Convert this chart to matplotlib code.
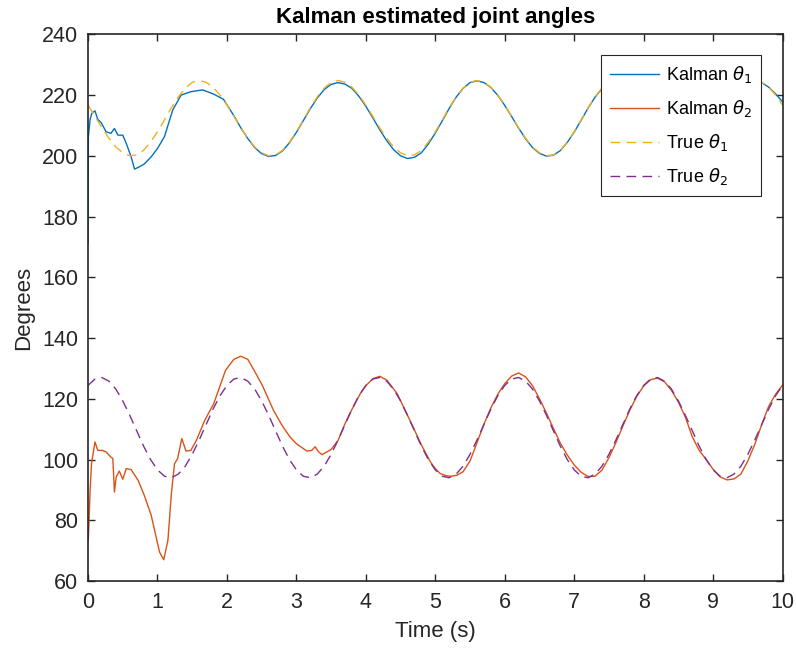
import numpy as np
import matplotlib
matplotlib.use("Agg")
from matplotlib import pyplot as plt

plt.rcParams["font.family"] = ["Liberation Sans", "DejaVu Sans"]
plt.rcParams["mathtext.fontset"] = "dejavusans"

# time grid for the reference trajectories (0.1 s)
time = np.round(np.arange(101) * 0.1, 1)

true_theta1 = [
    216.7, 213.0, 209.2, 205.8, 202.9, 201.0, 200.0, 200.3, 201.8, 204.5,
    207.9, 211.8, 215.8, 219.4, 222.3, 224.2, 224.8, 224.2, 222.6, 220.0,
    216.7, 213.0, 209.2, 205.8, 202.9, 201.0, 200.0, 200.3, 201.8, 204.5,
    207.9, 211.8, 215.8, 219.4, 222.3, 224.2, 224.8, 224.2, 222.6, 220.0,
    216.7, 213.0, 209.2, 205.8, 202.9, 201.0, 200.0, 200.3, 201.8, 204.5,
    207.9, 211.8, 215.8, 219.4, 222.3, 224.2, 224.8, 224.2, 222.6, 220.0,
    216.7, 213.0, 209.2, 205.8, 202.9, 201.0, 200.0, 200.3, 201.8, 204.5,
    207.9, 211.8, 215.8, 219.4, 222.3, 224.2, 224.8, 224.2, 222.6, 220.0,
    216.7, 213.0, 209.2, 205.8, 202.9, 201.0, 200.0, 200.3, 201.8, 204.5,
    207.9, 211.8, 215.8, 219.4, 222.3, 224.2, 224.8, 224.2, 222.6, 220.0,
    216.7,
]

true_theta2 = [
    124.4, 126.5, 127.0, 125.8, 123.2, 119.3, 114.6, 109.5, 104.4, 100.0,
    96.6, 94.5, 94.0, 95.2, 97.8, 101.7, 106.4, 111.5, 116.6, 121.0,
    124.4, 126.5, 127.0, 125.8, 123.2, 119.3, 114.6, 109.5, 104.4, 100.0,
    96.6, 94.5, 94.0, 95.2, 97.8, 101.7, 106.4, 111.5, 116.6, 121.0,
    124.4, 126.5, 127.0, 125.8, 123.2, 119.3, 114.6, 109.5, 104.4, 100.0,
    96.6, 94.5, 94.0, 95.2, 97.8, 101.7, 106.4, 111.5, 116.6, 121.0,
    124.4, 126.5, 127.0, 125.8, 123.2, 119.3, 114.6, 109.5, 104.4, 100.0,
    96.6, 94.5, 94.0, 95.2, 97.8, 101.7, 106.4, 111.5, 116.6, 121.0,
    124.4, 126.5, 127.0, 125.8, 123.2, 119.3, 114.6, 109.5, 104.4, 100.0,
    96.6, 94.5, 94.0, 95.2, 97.8, 101.7, 106.4, 111.5, 116.6, 121.0,
    124.4,
]

# Kalman estimates (denser sampling during the initial transient)
kal1_t = [
    0.0, 0.005, 0.03, 0.055, 0.1, 0.14, 0.19, 0.26, 0.33, 0.38, 0.43, 0.5,
    0.55, 0.62, 0.67, 0.74, 0.81, 0.91, 1.0, 1.1, 1.22, 1.34, 1.48, 1.65,
    1.81, 1.95, 2.1, 2.2, 2.3, 2.4, 2.5, 2.6, 2.7, 2.8, 2.9, 3.0, 3.1, 3.2,
    3.3, 3.4, 3.5, 3.6, 3.7, 3.8, 3.9, 4.0, 4.1, 4.2, 4.3, 4.4, 4.5, 4.6,
    4.7, 4.8, 4.9, 5.0, 5.1, 5.2, 5.3, 5.4, 5.5, 5.6, 5.7, 5.8, 5.9, 6.0,
    6.1, 6.2, 6.3, 6.4, 6.5, 6.6, 6.7, 6.8, 6.9, 7.0, 7.1, 7.2, 7.3, 7.4,
    7.5, 7.6, 7.7, 7.8, 7.9, 8.0, 8.1, 8.2, 8.3, 8.4, 8.5, 8.6, 8.7, 8.8,
    8.9, 9.0, 9.1, 9.2, 9.3, 9.4, 9.5, 9.6, 9.7, 9.8, 9.9, 10.0,
]
kal1 = [
    171.0, 206.3, 212.0, 214.0, 214.8, 212.0, 210.9, 207.9, 207.4, 209.0,
    206.8, 206.8, 204.1, 199.7, 195.6, 196.4, 197.3, 199.7, 202.4, 206.3,
    215.1, 220.0, 221.1, 221.7, 220.3, 218.6, 213.2, 209.2, 205.7, 202.7,
    200.7, 199.8, 200.1, 201.6, 204.3, 207.7, 211.6, 215.5, 219.0, 221.8,
    223.5, 224.1, 223.6, 222.2, 219.6, 216.3, 212.5, 208.6, 205.0, 202.0,
    200.0, 199.1, 199.5, 201.0, 203.9, 207.5, 211.5, 215.6, 219.3, 222.2,
    224.1, 224.7, 224.1, 222.5, 219.9, 216.6, 212.9, 209.1, 205.6, 202.7,
    200.8, 199.9, 200.2, 201.7, 204.4, 207.8, 211.7, 215.7, 219.3, 222.1,
    223.9, 224.4, 223.9, 222.4, 219.8, 216.5, 212.8, 209.0, 205.6, 202.8,
    200.9, 200.0, 200.3, 201.8, 204.5, 207.9, 211.8, 215.7, 219.3, 222.2,
    224.0, 224.5, 224.1, 222.6, 220.4, 217.8,
]

kal2_t = [
    0.0, 0.004, 0.03, 0.05, 0.1, 0.14, 0.21, 0.26, 0.33, 0.357, 0.38, 0.405,
    0.45, 0.5, 0.55, 0.62, 0.72, 0.81, 0.91, 0.98, 1.03, 1.09, 1.15, 1.2,
    1.245, 1.29, 1.35, 1.41, 1.48, 1.56, 1.68, 1.81, 1.98, 2.1, 2.2, 2.3,
    2.39, 2.51, 2.67, 2.8, 2.91, 3.0, 3.15, 3.22, 3.27, 3.32, 3.37, 3.43,
    3.5, 3.6, 3.7, 3.8, 3.92, 4.0, 4.1, 4.2, 4.3, 4.45, 4.57, 4.69, 4.8,
    4.93, 5.0, 5.07, 5.15, 5.22, 5.31, 5.4, 5.5, 5.6, 5.7, 5.8, 5.9, 6.0,
    6.1, 6.2, 6.3, 6.4, 6.5, 6.6, 6.7, 6.8, 6.9, 7.0, 7.1, 7.2, 7.3, 7.4,
    7.5, 7.6, 7.7, 7.8, 7.9, 8.0, 8.1, 8.2, 8.3, 8.4, 8.5, 8.6, 8.7, 8.8,
    8.9, 9.0, 9.1, 9.2, 9.3, 9.4, 9.5, 9.6, 9.7, 9.8, 9.9, 10.0,
]
kal2 = [
    81.0, 73.4, 90.0, 98.7, 105.8, 103.0, 103.0, 102.5, 100.8, 100.3, 89.3,
    94.2, 96.2, 93.5, 97.0, 96.7, 93.2, 88.2, 81.6, 74.5, 69.5, 67.0, 73.4,
    88.8, 98.6, 100.3, 106.9, 102.8, 103.0, 106.3, 112.9, 118.4, 129.4,
    133.0, 134.0, 133.0, 129.4, 124.4, 116.2, 111.0, 107.4, 105.2, 102.8,
    103.0, 104.2, 102.5, 101.6, 102.4, 103.3, 106.3, 111.8, 116.5, 121.7,
    124.3, 126.6, 127.4, 126.2, 121.7, 116.0, 110.2, 104.8, 99.2, 97.0, 95.4,
    94.7, 94.5, 94.8, 96.0, 99.5, 105.5, 111.6, 117.0, 121.5, 125.0, 127.5,
    128.5, 127.2, 124.3, 120.0, 115.3, 110.3, 105.4, 101.5, 98.2, 95.8, 94.4,
    94.5, 96.5, 100.6, 105.5, 111.0, 116.2, 120.8, 124.2, 126.3, 126.8,
    125.6, 122.8, 118.9, 114.0, 107.5, 103.0, 100.0, 96.8, 94.3, 93.3, 93.6,
    95.2, 99.5, 105.0, 111.5, 117.5, 121.5, 124.5,
]

fig = plt.figure(figsize=(7.96, 6.51), dpi=100)
ax = fig.add_axes([0.1106, 0.1075, 0.8725, 0.8398])

ax.plot(kal1_t, kal1, color="#0072BD", lw=1.0, label=r"Kalman $\theta_1$")
ax.plot(kal2_t, kal2, color="#D95319", lw=1.0, label=r"Kalman $\theta_2$")
ax.plot(time, true_theta1, color="#EDB120", lw=1.0, dashes=(7, 4.5), label=r"True $\theta_1$")
ax.plot(time, true_theta2, color="#7E2F8E", lw=1.0, dashes=(7, 4.5), label=r"True $\theta_2$")

ax.set_xlim(0, 10)
ax.set_ylim(60, 240)
ax.set_xticks(range(0, 11))
ax.set_yticks(range(60, 241, 20))
ax.tick_params(direction="in", top=True, right=True, length=5, width=1.0,
               labelsize=15.5, colors="#262626")
ax.tick_params(axis="x", pad=8)
ax.tick_params(axis="y", pad=7)
for s in ax.spines.values():
    s.set_linewidth(1.2)
    s.set_color("#262626")

ax.set_xlabel("Time (s)", fontsize=16, color="#262626", labelpad=6)
ax.set_ylabel("Degrees", fontsize=16, color="#262626", labelpad=6)
ax.set_title("Kalman estimated joint angles", fontsize=16, fontweight="bold", pad=8)

leg = ax.legend(loc="upper right", bbox_to_anchor=(0.969, 0.962), borderaxespad=0,
                fontsize=13, handlelength=2.7, labelspacing=0.72, fancybox=False,
                framealpha=1, edgecolor="#262626", borderpad=0.5, handletextpad=0.4)
leg.get_frame().set_linewidth(0.8)

fig.savefig("out.png", dpi=100)
